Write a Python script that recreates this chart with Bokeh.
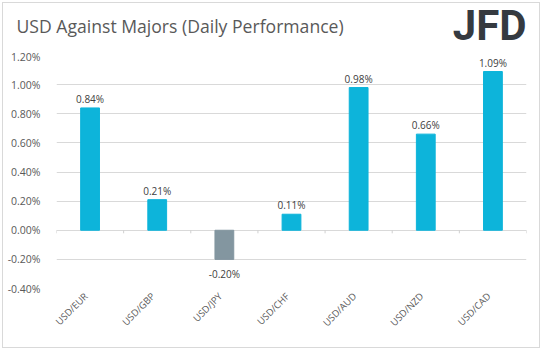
import math
from bokeh.plotting import figure
from bokeh.layouts import column
from bokeh.models import Range1d, PrintfTickFormatter, FixedTicker, ColumnDataSource, LinearAxis
from bokeh.core.properties import value
from bokeh.embed import file_html
from bokeh.resources import INLINE

pairs = ["USD/EUR", "USD/GBP", "USD/JPY", "USD/CHF", "USD/AUD", "USD/NZD", "USD/CAD"]
changes = [0.84, 0.21, -0.20, 0.11, 0.98, 0.66, 1.09]  # percent
y_ticks = [-0.4, -0.2, 0.0, 0.2, 0.4, 0.6, 0.8, 1.0, 1.2]
y_min, y_max = -0.4, 1.2
title = "USD Against Majors (Daily Performance)"
brand = "JFD"

POS = "#0DB4DA"
NEG = "#8396A0"
TXT = "#595959"
FONT = "Open Sans"
W = 536

xs = list(range(1, len(pairs) + 1))
colors = [POS if v >= 0 else NEG for v in changes]
labels = ["%.2f%%" % v for v in changes]

# ---- header (title + logo) ----
hdr = figure(width=W, height=46, x_range=Range1d(0, W), y_range=Range1d(46, 0),
             output_backend="svg", toolbar_location=None,
             x_axis_location=None, y_axis_location=None,
             min_border=0, min_border_left=0, min_border_right=0, min_border_top=0, min_border_bottom=0)
hdr.frame_align = False
hdr.grid.visible = False
hdr.outline_line_color = None
hdr.text(x=[13], y=[22], text=[title], text_font=value(FONT), text_font_size="17.6px",
         text_color=TXT, text_baseline="alphabetic", text_align="left")
hdr.text(x=[523], y=[22], text=[brand], text_font=value("Roboto"), text_font_style="bold",
         text_font_size="42px", text_color="#353a40", text_baseline="alphabetic", text_align="right")

# ---- main chart ----
p = figure(width=W, height=298, x_range=Range1d(0.5, len(pairs) + 0.5),
           y_range=Range1d(y_min, y_max), output_backend="svg", toolbar_location=None,
           min_border_left=53, min_border_right=13, min_border_top=6, min_border_bottom=59,
           x_axis_location=None)
p.frame_align = False
p.outline_line_color = None

src = ColumnDataSource(dict(x=xs, top=changes, color=colors, label=labels))
p.vbar(x="x", top="top", bottom=0, width=0.28, color="color", source=src)

pos_i = [i for i, v in enumerate(changes) if v >= 0]
neg_i = [i for i, v in enumerate(changes) if v < 0]
p.text(x=[xs[i] for i in pos_i], y=[changes[i] for i in pos_i], text=[labels[i] for i in pos_i],
       text_align="center", text_baseline="alphabetic", y_offset=-9,
       text_font=value(FONT), text_font_size="10px", text_color="#404040")
p.text(x=[xs[i] for i in neg_i], y=[changes[i] for i in neg_i], text=[labels[i] for i in neg_i],
       text_align="center", text_baseline="alphabetic", y_offset=15,
       text_font=value(FONT), text_font_size="10px", text_color="#404040")

# category axis tick marks at the zero line
bx = [x - 0.5 for x in xs] + [xs[-1] + 0.5]
p.segment(x0=bx, y0=[0] * len(bx), x1=bx, y1=[-0.021] * len(bx), line_color="#d0d0d0", line_width=1)

# rotated category labels on a slightly shifted range so the text ends at the bar
shift = 0.06
p.extra_x_ranges = {"lab": Range1d(0.5 + shift, len(pairs) + 0.5 + shift)}
xa = LinearAxis(x_range_name="lab", ticker=FixedTicker(ticks=xs),
                major_label_overrides={x: c for x, c in zip(xs, pairs)},
                axis_line_color=None, major_tick_line_color=None, minor_tick_line_color=None,
                major_label_orientation=math.pi / 4, major_label_standoff=0,
                major_label_text_font=FONT, major_label_text_font_size="9.5px",
                major_label_text_color=TXT)
p.add_layout(xa, "below")

p.yaxis.ticker = FixedTicker(ticks=y_ticks)
p.yaxis.formatter = PrintfTickFormatter(format="%.2f%%")
p.yaxis.axis_line_color = None
p.yaxis.major_tick_line_color = None
p.yaxis.minor_tick_line_color = None
p.yaxis.major_label_standoff = 10
p.yaxis.major_label_text_font = FONT
p.yaxis.major_label_text_font_size = "10.5px"
p.yaxis.major_label_text_color = TXT

p.xgrid.grid_line_color = None
p.ygrid.grid_line_color = "#d9d9d9"
p.ygrid.ticker = FixedTicker(ticks=y_ticks)

layout = column(hdr, p, spacing=0)
layout.styles = {"border": "1px solid #d9d9d9", "margin": "2px 0 0 2px", "background": "white"}

open("out.html", "w").write(file_html(layout, INLINE))
